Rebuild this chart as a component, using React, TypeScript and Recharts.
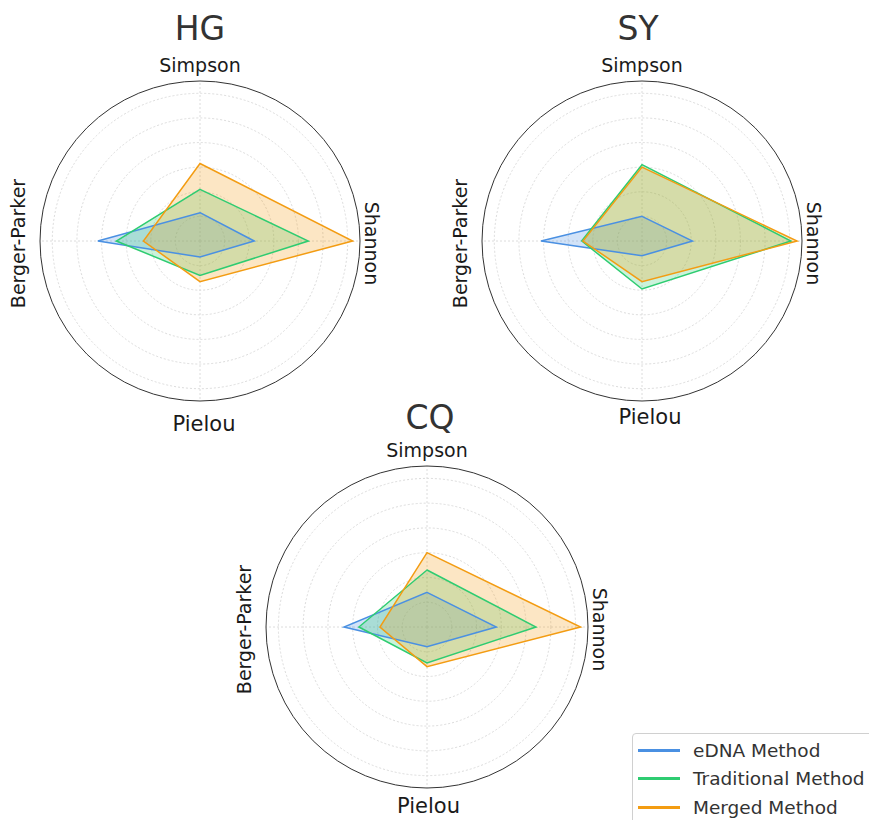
import React from "react";
import {
  RadarChart, Radar, PolarGrid, PolarAngleAxis, PolarRadiusAxis,
} from "recharts";

const FONT = "'DejaVu Sans', 'Liberation Sans', sans-serif";

// axes, clockwise from the top
const metrics = ["Simpson", "Shannon", "Pielou", "Berger-Parker"];
const radiusTicks = [0.2, 0.4, 0.6, 0.8, 1.0, 1.2];
const radiusMax = 1.3;

// values (same order as metrics)
const hgEdna = [0.23, 0.44, 0.13, 0.83];
const hgTrad = [0.42, 0.88, 0.28, 0.68];
const hgMerged = [0.63, 1.24, 0.33, 0.46];

const syEdna = [0.2, 0.41, 0.12, 0.82];
const syTrad = [0.62, 1.21, 0.39, 0.49];
const syMerged = [0.6, 1.26, 0.33, 0.48];

const cqEdna = [0.28, 0.56, 0.16, 0.67];
const cqTrad = [0.46, 0.88, 0.29, 0.55];
const cqMerged = [0.6, 1.24, 0.32, 0.38];

const seriesKeys = ["edna", "trad", "merged"];
const seriesNames = ["eDNA Method", "Traditional Method", "Merged Method"];
const seriesColors = ["#4a90e2", "#2ecc71", "#f39c12"];

const buildRows = (edna: number[], trad: number[], merged: number[]) =>
  metrics.map((m, i) => ({ metric: m, edna: edna[i], trad: trad[i], merged: merged[i] }));

interface PanelProps {
  title: string;
  rows: { metric: string; edna: number; trad: number; merged: number }[];
  left: number;
  top: number;
  width: number;
  height: number;
  cx: number;
  cy: number;
  radius: number;
  titleBaseline: number;
  titleX: number;
  pielou: { dx: number; dy: number };
}

// angle labels: Shannon / Berger-Parker are turned sideways
const makeTick = (pielou: { dx: number; dy: number }) =>
  // eslint-disable-next-line @typescript-eslint/no-explicit-any
  (props: any) => {
    const { x, y, payload } = props;
    const label: string = payload.value;
    const common = { fontFamily: FONT, fill: "#1a1a1a" };
    if (label === "Shannon") {
      const px = x - 3, py = y + 2.5;
      return (
        <text x={px} y={py} transform={`rotate(90, ${px}, ${py})`} textAnchor="middle" fontSize={19} {...common}>
          {label}
        </text>
      );
    }
    if (label === "Berger-Parker") {
      const px = x - 7, py = y + 2.5;
      return (
        <text x={px} y={py} transform={`rotate(-90, ${px}, ${py})`} textAnchor="middle" fontSize={19} {...common}>
          {label}
        </text>
      );
    }
    if (label === "Pielou") {
      return (
        <text x={x + pielou.dx} y={y + pielou.dy} textAnchor="middle" fontSize={21} {...common}>
          {label}
        </text>
      );
    }
    return (
      <text x={x} y={y - 1} textAnchor="middle" fontSize={19} {...common}>
        {label}
      </text>
    );
  };

function RadarPanel(p: PanelProps) {
  return (
    <>
      <div
        style={{
          position: "absolute", left: p.titleX - 100, width: 200, top: p.titleBaseline - 27.9,
          textAlign: "center", fontFamily: FONT, fontSize: 33, lineHeight: "33px", color: "#333",
        }}
      >
        {p.title}
      </div>
      <div style={{ position: "absolute", left: p.left, top: p.top }}>
        <RadarChart
          width={p.width}
          height={p.height}
          data={p.rows}
          cx={p.cx}
          cy={p.cy}
          outerRadius={p.radius}
          margin={{ top: 0, right: 0, bottom: 0, left: 0 }}
        >
          <PolarGrid gridType="circle" stroke="#dcdcdc" strokeDasharray="2 2" />
          <PolarRadiusAxis
            domain={[0, radiusMax]}
            ticks={radiusTicks}
            tick={false}
            axisLine={false}
            tickLine={false}
          />
          <PolarAngleAxis
            dataKey="metric"
            axisLineType="circle"
            axisLine={{ stroke: "#333", strokeWidth: 1 }}
            tickLine={false}
            tick={makeTick(p.pielou)}
          />
          {/* filled areas first */}
          {seriesKeys.map((k, i) => (
            <Radar key={`fill-${k}`} dataKey={k} name={seriesNames[i]} stroke="none"
              fill={seriesColors[i]} fillOpacity={0.25} isAnimationActive={false} />
          ))}
          {/* outlines on top */}
          {seriesKeys.map((k, i) => (
            <Radar key={`line-${k}`} dataKey={k} name={`${seriesNames[i]} line`} stroke={seriesColors[i]}
              fill="none" fillOpacity={0} strokeWidth={1.5} legendType="none" isAnimationActive={false} />
          ))}
        </RadarChart>
      </div>
    </>
  );
}

export default function App() {
  return (
    <div
      style={{
        position: "absolute", left: 0, top: 0, width: 869, height: 820,
        overflow: "hidden", background: "#fff",
      }}
    >
      <RadarPanel title="HG" rows={buildRows(hgEdna, hgTrad, hgMerged)}
        left={0} top={0} width={430} height={440} cx={200} cy={241} radius={160}
        titleX={200} titleBaseline={40} pielou={{ dx: 4, dy: 22 }} />
      <RadarPanel title="SY" rows={buildRows(syEdna, syTrad, syMerged)}
        left={430} top={0} width={439} height={440} cx={212} cy={241} radius={160}
        titleX={638} titleBaseline={40} pielou={{ dx: 8, dy: 15 }} />
      <RadarPanel title="CQ" rows={buildRows(cqEdna, cqTrad, cqMerged)}
        left={230} top={390} width={410} height={430} cx={197} cy={237} radius={161}
        titleX={430} titleBaseline={429} pielou={{ dx: 1.5, dy: 16.5 }} />

      {/* legend, runs off the right / bottom edge as in the source */}
      <div
        style={{
          position: "absolute", left: 632, top: 733, width: 260, height: 100,
          border: "1px solid #d0d0d0", borderRadius: 4, background: "rgba(255,255,255,0.8)",
          boxSizing: "border-box", paddingTop: 2,
        }}
      >
        {seriesNames.map((n, i) => (
          <div key={n} style={{ display: "flex", alignItems: "center", height: 28.5 }}>
            <div style={{ marginLeft: 5, width: 42, height: 3, background: seriesColors[i] }} />
            <span style={{ marginLeft: 13, fontFamily: FONT, fontSize: 18.5, color: "#333", whiteSpace: "nowrap" }}>
              {n}
            </span>
          </div>
        ))}
      </div>
    </div>
  );
}
